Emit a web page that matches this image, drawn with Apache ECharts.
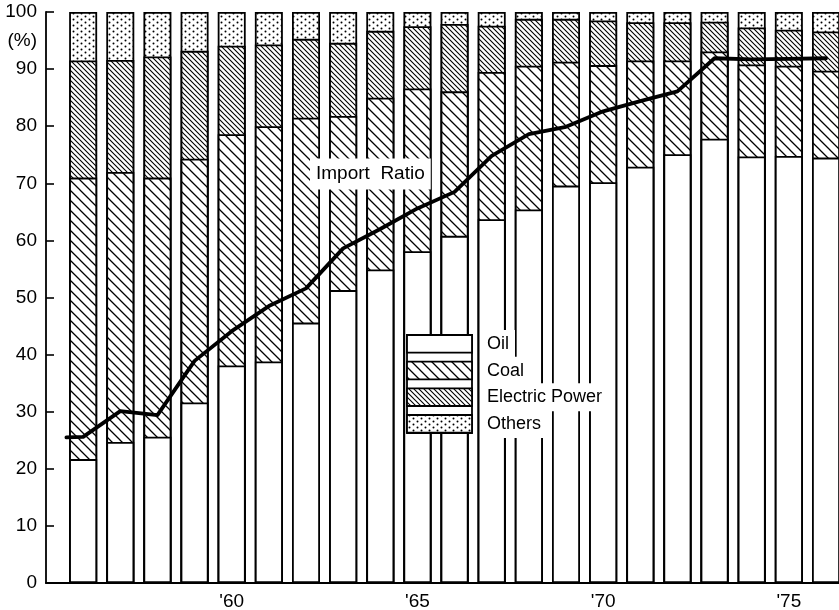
<!DOCTYPE html>
<html><head><meta charset="utf-8">
<script src="https://cdn.jsdelivr.net/npm/echarts@6/dist/echarts.min.js"></script>
<style>html,body{margin:0;padding:0;background:#fff}#c{width:839px;height:610px}</style>
</head><body><div id="c"></div>
<script>
const years = [1956,1957,1958,1959,1960,1961,1962,1963,1964,1965,1966,1967,1968,1969,1970,1971,1972,1973,1974,1975,1976];
const oil      = [21.7,24.7,25.6,31.6,38.1,38.8,45.6,51.3,54.9,58.1,60.8,63.7,65.4,69.6,70.2,72.9,75.1,77.8,74.7,74.8,74.5];
const coal     = [49.3,47.3,45.4,42.7,40.5,41.2,35.9,30.5,30.1,28.5,25.3,25.8,25.2,21.7,20.5,18.6,16.4,15.3,16.1,15.8,15.2];
const electric = [20.5,19.6,21.2,18.9,15.5,14.3,13.8,12.8,11.7,10.9,11.8,8.1,8.2,7.5,7.8,6.7,6.7,5.2,6.5,6.3,6.9];
const others   = [8.5,8.4,7.8,6.8,5.9,5.7,4.7,5.4,3.3,2.5,2.1,2.4,1.2,1.2,1.5,1.8,1.8,1.7,2.7,3.1,3.4];
const importYears = [1955.55,1956,1957,1958,1959,1960,1961,1962,1963,1964,1965,1966,1967,1968,1969,1970,1971,1972,1973,1974,1975,1976];
const importRatio = [25.5,25.6,30.1,29.4,38.9,44.1,48.5,51.6,58.6,62.0,65.6,68.5,74.8,78.6,79.9,82.6,84.4,86.1,91.9,91.7,91.8,91.9];
const xLabelYears = [1960,1965,1970,1975];
const legendNames = ['Oil','Coal','Electric Power','Others'];

const FONT = "'Liberation Sans', Arial, sans-serif";

function hatch(step, lw) {
  const c = document.createElement('canvas'); c.width = step; c.height = step;
  const g = c.getContext('2d');
  g.fillStyle = '#fff'; g.fillRect(0,0,step,step);
  g.strokeStyle = '#000'; g.lineWidth = lw;
  g.beginPath();
  g.moveTo(-2,-2); g.lineTo(step+2,step+2);
  g.moveTo(-2,step-2); g.lineTo(2,step+2);
  g.moveTo(step-2,-2); g.lineTo(step+2,2);
  g.stroke();
  return c;
}
function dots() {
  const c = document.createElement('canvas'); c.width = 8; c.height = 6;
  const g = c.getContext('2d');
  g.fillStyle = '#fff'; g.fillRect(0,0,8,6);
  g.fillStyle = '#000';
  g.beginPath(); g.arc(1.5,1.5,1.0,0,Math.PI*2); g.fill();
  g.beginPath(); g.arc(5.5,4.5,1.0,0,Math.PI*2); g.fill();
  return c;
}
const pCoal = {image: hatch(10, 1.3), repeat: 'repeat'};
const pElec = {image: hatch(5, 1.1), repeat: 'repeat'};
const pOth  = {image: dots(), repeat: 'repeat'};
const fills = ['#fff', pCoal, pElec, pOth];

// cumulative tops (stack built from the share arrays), drawn back-to-front as overlapping bars
const shares = [oil, coal, electric, others];
const tops = [];
shares.forEach((arr, k) => {
  tops.push(arr.map((v, i) => Math.round(((k ? tops[k-1][i] : 0) + v) * 10) / 10));
});
const pair = arr => arr.map((v,i) => [years[i], v]);
const barStyle = fill => ({color: fill, borderColor: '#000', borderWidth: 1.8});

const barSeries = [3,2,1,0].map(k => ({
  type: 'bar', name: legendNames[k], barWidth: 28, barGap: '-100%',
  data: pair(tops[k]), itemStyle: barStyle(fills[k]), z: 2
}));

const chart = echarts.init(document.getElementById('c'), null, {renderer: 'canvas'});

const legendGraphics = [];
const rowTops = [335, 361.7, 388.3, 415];
legendGraphics.push({type:'rect', z: 100, shape:{x:407, y:335, width:65, height:98}, style:{fill:'#fff', stroke:'#000', lineWidth:1.8}});
rowTops.forEach((t, i) => {
  legendGraphics.push({type:'rect', z: 101, shape:{x:407, y:t, width:65, height:17.7}, style:{fill: fills[i], stroke:'#000', lineWidth:1.8}});
  legendGraphics.push({type:'text', z: 101, x: 481, y: t + 9, style:{text: legendNames[i], fill:'#000', font: '18px ' + FONT, verticalAlign:'middle', align:'left', backgroundColor:'#fff', padding:[5,6,5,6]}});
});

chart.setOption({
  animation: false,
  backgroundColor: '#fff',
  grid: {left: 46, right: 0, top: 12, bottom: 27, containLabel: false, outerBoundsMode: 'none'},
  xAxis: {
    type: 'value', min: 1955, max: 1976.35, interval: 5,
    axisLine: {show: true, lineStyle: {color: '#000', width: 1.8}},
    axisTick: {show: false},
    splitLine: {show: false},
    axisLabel: {
      customValues: xLabelYears,
      color: '#000', fontSize: 19, fontFamily: FONT, margin: 9,
      formatter: v => (v % 5 === 0 && v >= 1960) ? "'" + String(v).slice(2) : ''
    }
  },
  yAxis: {
    type: 'value', min: 0, max: 100, interval: 10,
    axisLine: {show: true, lineStyle: {color: '#000', width: 1.8}},
    axisTick: {show: true, inside: true, length: 8, lineStyle: {color: '#000', width: 1.6}},
    splitLine: {show: false},
    axisLabel: {color: '#000', fontSize: 19, fontFamily: FONT, margin: 9}
  },
  series: barSeries.concat([
    {type:'line', name:'Import Ratio', data: importYears.map((y,i) => [y, importRatio[i]]), symbol:'none', z: 10,
     lineStyle: {color:'#000', width: 3.8, join: 'round', cap: 'round'}}
  ]),
  graphic: [
    {type:'text', z: 100, x: 37, y: 40.5, style:{text:'(%)', fill:'#000', font:'19px ' + FONT, align:'right', verticalAlign:'middle'}},
    {type:'text', z: 100, x: 310, y: 174, style:{text:'Import  Ratio', fill:'#000', font:'19px ' + FONT, align:'left', verticalAlign:'middle', backgroundColor:'#fff', padding:[6,6,6,6]}}
  ].concat(legendGraphics)
});
</script>
</body></html>
